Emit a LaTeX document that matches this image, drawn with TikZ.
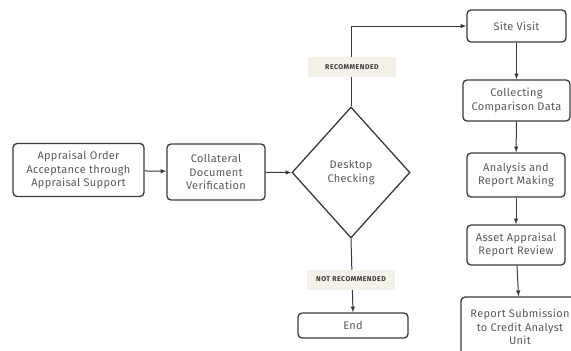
\documentclass[tikz,border=0pt]{standalone}
\usepackage{fontspec}
\setmainfont[LetterSpace=3]{Fira Sans}
\usepackage{tikz}
\usetikzlibrary{positioning}
\usetikzlibrary{shapes.geometric}
\usetikzlibrary{arrows}
\definecolor{line_gray}{HTML}{3A3A3A}
\definecolor{text_gray}{HTML}{5A5A5A}
\definecolor{tag_fill}{HTML}{F4F1EA}
\tikzset{
  step_box/.style={draw=line_gray, line width=1.3pt, rounded corners=4pt, fill=white, align=center, text=text_gray, font=\fontsize{11}{13.5}\selectfont, inner sep=0},
  decision_box/.style={draw=line_gray, line width=1.3pt, diamond, minimum width=118pt, minimum height=131pt, inner sep=0, align=center, text=text_gray, font=\fontsize{11}{13.5}\selectfont},
  arrow_flow/.style={-latex, line width=1pt, color=line_gray},
  tag_label/.style={fill=tag_fill, text=line_gray, font=\fontsize{7}{7}\selectfont\bfseries\addfontfeature{LetterSpace=7}, minimum width=88pt, minimum height=20pt, inner sep=0}
}
\begin{document}
\begin{tikzpicture}[x=1pt, y=-1pt]
\useasboundingbox (0,0) rectangle (571,351);

% left part
\node[step_box, minimum width=131pt, minimum height=53pt] at (78.5,170) (order) {Appraisal Order\\Acceptance through\\Appraisal Support};
\node[step_box, minimum width=98pt, minimum height=56pt] at (216,172) (verify) {Collateral\\Document\\Verification};
\node[decision_box] at (351,172.5) (desk) {Desktop\\Checking};
\node[step_box, minimum width=110pt, minimum height=25pt] at (353,325.5) (end) {End};

% right column
\node[step_box, minimum width=99pt, minimum height=32pt] at (516.5,26) (site) {Site Visit};
\node[step_box, minimum width=107pt, minimum height=41pt] at (516.5,100.5) (collect) {Collecting\\Comparison Data};
\node[step_box, minimum width=98pt, minimum height=44pt] at (516,175) (analysis) {Analysis and\\Report Making};
\node[step_box, minimum width=98pt, minimum height=40pt] at (516,245) (review) {Asset Appraisal\\Report Review};
\node[step_box, minimum width=118pt, minimum height=60pt] at (520,327) (submit) {Report Submission\\to Credit Analyst\\Unit};

%%% arrows
\draw[arrow_flow] (order) -- (verify);
\draw[arrow_flow] (verify) -- (desk.west);
\draw[arrow_flow] (desk.north) |- (site.west);
\draw[arrow_flow] (desk.south) -- (end.north);
\draw[arrow_flow] (site) -- (collect);
\draw[arrow_flow] (collect) -- (analysis);
\draw[arrow_flow] (analysis) -- (review);
\draw[arrow_flow] (review) -- (submit);

%%% branch tags
\node[tag_label] at (352,67) (rec) {RECOMMENDED};
\node[tag_label] at (351,279.5) (notrec) {NOT RECOMMENDED};

\end{tikzpicture}
\end{document}
